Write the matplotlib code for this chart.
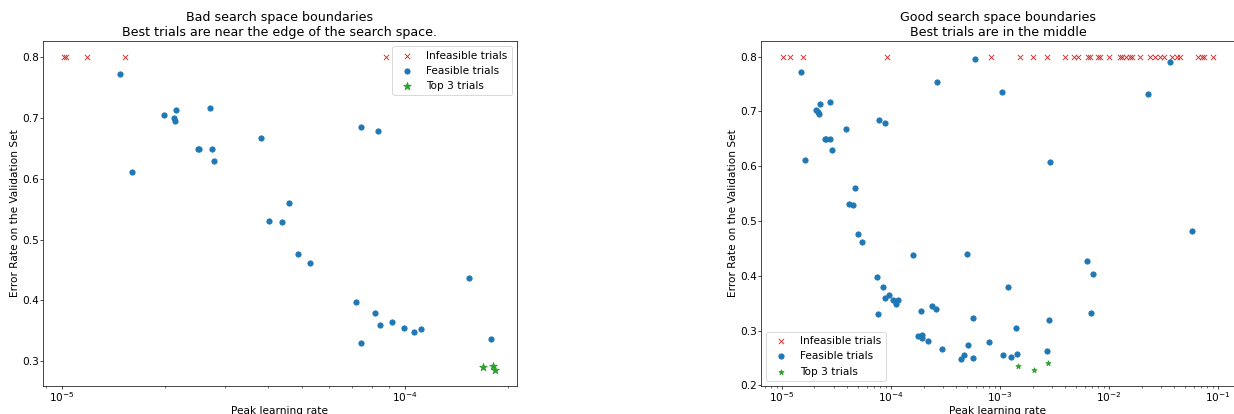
import matplotlib
matplotlib.use("Agg")
import matplotlib.pyplot as plt

# ---------------- Bad search space (narrow learning-rate range) ----------------
bad_infeasible_lr = [1.02e-5, 1.03e-5, 1.186e-5, 1.527e-5, 8.81e-5]
bad_infeasible_err = [0.8, 0.8, 0.8, 0.8, 0.8]

bad_feasible_lr = [
    1.483e-5, 1.987e-5, 2.126e-5, 2.146e-5, 2.160e-5, 2.706e-5, 2.491e-5, 2.520e-5,
    2.743e-5, 2.787e-5, 1.600e-5, 3.803e-5, 4.022e-5, 4.387e-5, 4.595e-5, 4.865e-5,
    5.296e-5, 7.211e-5, 8.160e-5, 8.473e-5, 9.146e-5, 9.954e-5, 1.0622e-4, 1.1133e-4,
    7.427e-5, 7.458e-5, 8.336e-5, 1.533e-4, 1.785e-4,
]
bad_feasible_err = [
    0.771, 0.7036, 0.6987, 0.6943, 0.7129, 0.7162, 0.6492, 0.6492,
    0.6492, 0.6289, 0.6110, 0.6665, 0.5304, 0.5292, 0.5595, 0.4765,
    0.4613, 0.398, 0.3789, 0.3593, 0.3642, 0.3551, 0.3479, 0.3539,
    0.3294, 0.684, 0.678, 0.4373, 0.336,
]

bad_top_lr = [1.688e-4, 1.801e-4, 1.833e-4]
bad_top_err = [0.2907, 0.2918, 0.2853]

# ---------------- Good search space (wide learning-rate range) ----------------
good_infeasible_lr = [
    1.019e-5, 1.201e-5, 1.563e-5, 9.29e-5, 8.27e-4, 1.537e-3, 2.0e-3, 2.692e-3,
    3.97e-3, 4.834e-3, 5.204e-3, 6.509e-3, 6.716e-3, 7.929e-3, 8.324e-3, 1.006e-2,
    1.258e-2, 1.332e-2, 1.446e-2, 1.560e-2, 1.637e-2, 1.918e-2, 2.372e-2, 2.641e-2,
    2.940e-2, 3.220e-2, 3.802e-2, 4.261e-2, 4.518e-2, 6.603e-2, 7.226e-2, 7.414e-2,
    9.114e-2,
]
good_infeasible_err = [
    0.8, 0.8, 0.8, 0.8, 0.8, 0.8, 0.8, 0.8,
    0.8, 0.8, 0.8, 0.8, 0.8, 0.8, 0.8, 0.8,
    0.8, 0.8, 0.8, 0.8, 0.8, 0.8, 0.8, 0.8,
    0.8, 0.8, 0.8, 0.8, 0.8, 0.8, 0.8, 0.8,
    0.8,
]

good_feasible_lr = [
    1.514e-5, 5.99e-4, 2.658e-4, 2.047e-5, 2.227e-5, 2.790e-5, 2.167e-5, 2.194e-5,
    7.83e-5, 8.81e-5, 3.932e-5, 2.50e-5, 2.54e-5, 2.80e-5, 2.885e-5, 1.634e-5,
    4.753e-5, 4.163e-5, 4.558e-5, 5.063e-5, 5.508e-5, 1.613e-4, 4.958e-4, 7.507e-5,
    8.518e-5, 8.885e-5, 9.587e-5, 1.043e-4, 1.121e-4, 1.176e-4, 7.716e-5, 1.186e-3,
    1.881e-4, 2.372e-4, 2.618e-4, 5.710e-4, 1.404e-3, 2.849e-3, 1.781e-4, 1.921e-4,
    1.950e-4, 2.181e-4, 2.928e-4, 7.998e-4, 5.106e-4, 4.369e-4, 4.693e-4, 5.674e-4,
    1.081e-3, 1.279e-3, 1.434e-3, 2.697e-3, 3.622e-2, 1.045e-3, 2.312e-2, 2.910e-3,
    5.842e-2, 6.302e-3, 7.201e-3, 6.859e-3,
]
good_feasible_err = [
    0.7715, 0.7958, 0.7545, 0.7036, 0.7133, 0.7169, 0.6995, 0.6951,
    0.6849, 0.6787, 0.6673, 0.6496, 0.6496, 0.6496, 0.6296, 0.6115,
    0.56, 0.5309, 0.5296, 0.4769, 0.4618, 0.4382, 0.4405, 0.3987,
    0.3795, 0.36, 0.3655, 0.3564, 0.3485, 0.3551, 0.3304, 0.3795,
    0.3364, 0.3455, 0.34, 0.3236, 0.3055, 0.3187, 0.2909, 0.2927,
    0.286, 0.2813, 0.2673, 0.2795, 0.2745, 0.2485, 0.2564, 0.2496,
    0.2551, 0.2527, 0.2569, 0.2631, 0.7896, 0.7364, 0.7327, 0.6078,
    0.4824, 0.4278, 0.4031, 0.3327,
]

good_top_lr = [1.483e-3, 2.051e-3, 2.789e-3]
good_top_err = [0.236, 0.2276, 0.2418]

plt.rcParams["font.size"] = 12
plt.rcParams["xtick.major.pad"] = 1.2
plt.rcParams["xtick.minor.pad"] = 1.2
plt.rcParams["ytick.major.pad"] = 1.2
plt.rcParams["axes.labelpad"] = 2.5

DPI = 63.3
fig = plt.figure(figsize=(1234 / DPI, 414 / DPI), dpi=DPI)

ax_bad = fig.add_axes([0.0348, 0.0676, 0.3841, 0.8333])
ax_good = fig.add_axes([0.6167, 0.0676, 0.3841, 0.8333])


def draw(ax, inf_lr, inf_err, fea_lr, fea_err, top_lr, top_err, star_size, title, legend_loc):
    ax.scatter(inf_lr, inf_err, marker="x", color="tab:red", linewidths=1.0,
               label="Infeasible trials")
    ax.scatter(fea_lr, fea_err, marker="o", color="tab:blue", label="Feasible trials")
    ax.scatter(top_lr, top_err, marker="*", color="tab:green", s=star_size, label="Top 3 trials")
    ax.set_xscale("log")
    ax.set_xlabel("Peak learning rate")
    ax.set_ylabel("Error Rate on the Validation Set")
    ax.set_title(title)
    ax.legend(loc=legend_loc)


draw(ax_bad, bad_infeasible_lr, bad_infeasible_err, bad_feasible_lr, bad_feasible_err,
     bad_top_lr, bad_top_err, 80,
     "Bad search space boundaries\nBest trials are near the edge of the search space.",
     "upper right")
draw(ax_good, good_infeasible_lr, good_infeasible_err, good_feasible_lr, good_feasible_err,
     good_top_lr, good_top_err, 36,
     "Good search space boundaries\nBest trials are in the middle",
     "lower left")

fig.savefig("out.png", dpi=DPI)
